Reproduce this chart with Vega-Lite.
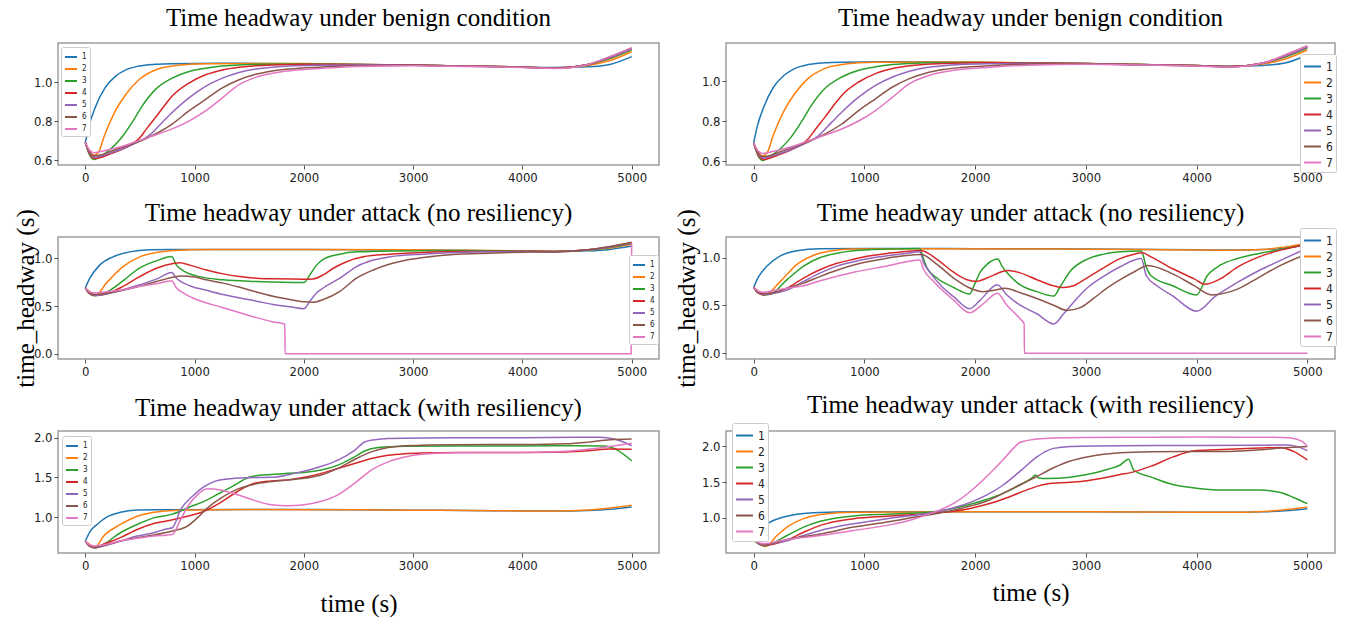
{
"$schema": "https://vega.github.io/schema/vega-lite/v6.json",
"padding": {"left": 12, "top": 5, "right": 5, "bottom": 0},
"background": "white",
"columns": 2,
"align": "each",
"bounds": "flush",
"spacing": {"row": 72, "column": 67},
"resolve": {"scale": {"color": "independent"}, "legend": {"color": "independent"}},
"datasets": {
"benign": [
{"v":1,"t":0,"h":0.69},{"v":1,"t":30,"h":0.768},{"v":1,"t":90,"h":0.869},{"v":1,"t":180,"h":0.97},{"v":1,"t":275,"h":1.029},{"v":1,"t":370,"h":1.062},{"v":1,"t":490,"h":1.082},{"v":1,"t":640,"h":1.091},{"v":1,"t":800,"h":1.094},{"v":1,"t":1200,"h":1.096},{"v":1,"t":2000,"h":1.094},{"v":1,"t":2500,"h":1.09},{"v":1,"t":3000,"h":1.087},{"v":1,"t":3500,"h":1.082},{"v":1,"t":4000,"h":1.077},{"v":1,"t":4300,"h":1.074},{"v":1,"t":4600,"h":1.078},{"v":1,"t":4800,"h":1.09},{"v":1,"t":5000,"h":1.13},
{"v":2,"t":0,"h":0.69},{"v":2,"t":40,"h":0.645},{"v":2,"t":80,"h":0.625},{"v":2,"t":120,"h":0.64},{"v":2,"t":180,"h":0.734},{"v":2,"t":275,"h":0.852},{"v":2,"t":370,"h":0.936},{"v":2,"t":490,"h":1.012},{"v":2,"t":640,"h":1.062},{"v":2,"t":800,"h":1.082},{"v":2,"t":950,"h":1.091},{"v":2,"t":1100,"h":1.094},{"v":2,"t":2000,"h":1.095},{"v":2,"t":2500,"h":1.09},{"v":2,"t":3000,"h":1.087},{"v":2,"t":3500,"h":1.082},{"v":2,"t":4000,"h":1.077},{"v":2,"t":4300,"h":1.072},{"v":2,"t":4600,"h":1.085},{"v":2,"t":4800,"h":1.11},{"v":2,"t":5000,"h":1.155},
{"v":3,"t":0,"h":0.69},{"v":3,"t":40,"h":0.625},{"v":3,"t":80,"h":0.603},{"v":3,"t":130,"h":0.615},{"v":3,"t":180,"h":0.634},{"v":3,"t":336,"h":0.718},{"v":3,"t":428,"h":0.793},{"v":3,"t":520,"h":0.877},{"v":3,"t":640,"h":0.961},{"v":3,"t":795,"h":1.02},{"v":3,"t":950,"h":1.054},{"v":3,"t":1100,"h":1.071},{"v":3,"t":1250,"h":1.082},{"v":3,"t":1400,"h":1.087},{"v":3,"t":1560,"h":1.091},{"v":3,"t":2000,"h":1.093},{"v":3,"t":2500,"h":1.09},{"v":3,"t":3000,"h":1.087},{"v":3,"t":3500,"h":1.082},{"v":3,"t":4000,"h":1.077},{"v":3,"t":4300,"h":1.072},{"v":3,"t":4600,"h":1.09},{"v":3,"t":4800,"h":1.12},{"v":3,"t":5000,"h":1.165},
{"v":4,"t":0,"h":0.69},{"v":4,"t":40,"h":0.63},{"v":4,"t":90,"h":0.608},{"v":4,"t":150,"h":0.615},{"v":4,"t":220,"h":0.63},{"v":4,"t":336,"h":0.655},{"v":4,"t":420,"h":0.68},{"v":4,"t":489,"h":0.709},{"v":4,"t":560,"h":0.76},{"v":4,"t":642,"h":0.818},{"v":4,"t":734,"h":0.886},{"v":4,"t":795,"h":0.928},{"v":4,"t":948,"h":0.995},{"v":4,"t":1100,"h":1.037},{"v":4,"t":1254,"h":1.062},{"v":4,"t":1407,"h":1.076},{"v":4,"t":1560,"h":1.084},{"v":4,"t":1713,"h":1.087},{"v":4,"t":2000,"h":1.091},{"v":4,"t":2500,"h":1.09},{"v":4,"t":3000,"h":1.087},{"v":4,"t":3500,"h":1.082},{"v":4,"t":4000,"h":1.077},{"v":4,"t":4300,"h":1.072},{"v":4,"t":4600,"h":1.09},{"v":4,"t":4800,"h":1.125},{"v":4,"t":5000,"h":1.17},
{"v":5,"t":0,"h":0.69},{"v":5,"t":40,"h":0.635},{"v":5,"t":90,"h":0.615},{"v":5,"t":150,"h":0.622},{"v":5,"t":250,"h":0.64},{"v":5,"t":350,"h":0.66},{"v":5,"t":489,"h":0.695},{"v":5,"t":581,"h":0.725},{"v":5,"t":703,"h":0.793},{"v":5,"t":795,"h":0.844},{"v":5,"t":948,"h":0.919},{"v":5,"t":1100,"h":0.978},{"v":5,"t":1254,"h":1.02},{"v":5,"t":1407,"h":1.049},{"v":5,"t":1560,"h":1.067},{"v":5,"t":1713,"h":1.076},{"v":5,"t":1865,"h":1.082},{"v":5,"t":2100,"h":1.086},{"v":5,"t":2500,"h":1.088},{"v":5,"t":3000,"h":1.086},{"v":5,"t":3500,"h":1.081},{"v":5,"t":4000,"h":1.076},{"v":5,"t":4300,"h":1.071},{"v":5,"t":4600,"h":1.09},{"v":5,"t":4800,"h":1.125},{"v":5,"t":5000,"h":1.17},
{"v":6,"t":0,"h":0.69},{"v":6,"t":40,"h":0.64},{"v":6,"t":80,"h":0.622},{"v":6,"t":150,"h":0.628},{"v":6,"t":250,"h":0.648},{"v":6,"t":336,"h":0.665},{"v":6,"t":489,"h":0.695},{"v":6,"t":642,"h":0.734},{"v":6,"t":795,"h":0.785},{"v":6,"t":948,"h":0.852},{"v":6,"t":1100,"h":0.911},{"v":6,"t":1254,"h":0.97},{"v":6,"t":1407,"h":1.012},{"v":6,"t":1560,"h":1.04},{"v":6,"t":1713,"h":1.057},{"v":6,"t":1865,"h":1.067},{"v":6,"t":2171,"h":1.077},{"v":6,"t":2500,"h":1.085},{"v":6,"t":3000,"h":1.086},{"v":6,"t":3500,"h":1.081},{"v":6,"t":4000,"h":1.076},{"v":6,"t":4300,"h":1.071},{"v":6,"t":4600,"h":1.09},{"v":6,"t":4800,"h":1.13},{"v":6,"t":5000,"h":1.175},
{"v":7,"t":0,"h":0.69},{"v":7,"t":40,"h":0.65},{"v":7,"t":80,"h":0.638},{"v":7,"t":150,"h":0.645},{"v":7,"t":250,"h":0.658},{"v":7,"t":336,"h":0.67},{"v":7,"t":489,"h":0.7},{"v":7,"t":642,"h":0.729},{"v":7,"t":795,"h":0.76},{"v":7,"t":948,"h":0.8},{"v":7,"t":1100,"h":0.852},{"v":7,"t":1254,"h":0.919},{"v":7,"t":1407,"h":0.987},{"v":7,"t":1560,"h":1.024},{"v":7,"t":1713,"h":1.045},{"v":7,"t":1865,"h":1.057},{"v":7,"t":2171,"h":1.07},{"v":7,"t":2477,"h":1.079},{"v":7,"t":3000,"h":1.084},{"v":7,"t":3500,"h":1.08},{"v":7,"t":4000,"h":1.075},{"v":7,"t":4300,"h":1.07},{"v":7,"t":4600,"h":1.09},{"v":7,"t":4800,"h":1.13},{"v":7,"t":5000,"h":1.175}
],
"attackL": [
{"v":1,"t":0,"h":0.69},{"v":1,"t":40,"h":0.79},{"v":1,"t":131,"h":0.93},{"v":1,"t":253,"h":1.017},{"v":1,"t":406,"h":1.069},{"v":1,"t":589,"h":1.09},{"v":1,"t":800,"h":1.093},{"v":1,"t":2000,"h":1.093},{"v":1,"t":3000,"h":1.088},{"v":1,"t":3500,"h":1.083},{"v":1,"t":4000,"h":1.078},{"v":1,"t":4300,"h":1.074},{"v":1,"t":4600,"h":1.08},{"v":1,"t":4800,"h":1.095},{"v":1,"t":5000,"h":1.13},
{"v":2,"t":0,"h":0.69},{"v":2,"t":50,"h":0.645},{"v":2,"t":100,"h":0.62},{"v":2,"t":192,"h":0.741},{"v":2,"t":345,"h":0.914},{"v":2,"t":498,"h":1.017},{"v":2,"t":650,"h":1.062},{"v":2,"t":803,"h":1.083},{"v":2,"t":956,"h":1.09},{"v":2,"t":1200,"h":1.094},{"v":2,"t":2000,"h":1.094},{"v":2,"t":3000,"h":1.09},{"v":2,"t":3500,"h":1.085},{"v":2,"t":4000,"h":1.079},{"v":2,"t":4300,"h":1.075},{"v":2,"t":4600,"h":1.088},{"v":2,"t":4800,"h":1.11},{"v":2,"t":5000,"h":1.15},
{"v":3,"t":0,"h":0.69},{"v":3,"t":40,"h":0.63},{"v":3,"t":80,"h":0.608},{"v":3,"t":192,"h":0.645},{"v":3,"t":345,"h":0.765},{"v":3,"t":498,"h":0.9},{"v":3,"t":650,"h":0.975},{"v":3,"t":790,"h":1.02},{"v":3,"t":834,"h":0.93},{"v":3,"t":895,"h":0.872},{"v":3,"t":1017,"h":0.817},{"v":3,"t":1261,"h":0.776},{"v":3,"t":1566,"h":0.759},{"v":3,"t":2000,"h":0.748},{"v":3,"t":2055,"h":0.828},{"v":3,"t":2116,"h":0.93},{"v":3,"t":2177,"h":0.99},{"v":3,"t":2330,"h":1.045},{"v":3,"t":2482,"h":1.069},{"v":3,"t":2788,"h":1.079},{"v":3,"t":3400,"h":1.084},{"v":3,"t":4000,"h":1.078},{"v":3,"t":4300,"h":1.074},{"v":3,"t":4600,"h":1.088},{"v":3,"t":4800,"h":1.115},{"v":3,"t":5000,"h":1.16},
{"v":4,"t":0,"h":0.69},{"v":4,"t":40,"h":0.63},{"v":4,"t":90,"h":0.61},{"v":4,"t":192,"h":0.628},{"v":4,"t":345,"h":0.707},{"v":4,"t":498,"h":0.81},{"v":4,"t":650,"h":0.897},{"v":4,"t":803,"h":0.948},{"v":4,"t":864,"h":0.955},{"v":4,"t":956,"h":0.93},{"v":4,"t":1108,"h":0.879},{"v":4,"t":1261,"h":0.838},{"v":4,"t":1414,"h":0.81},{"v":4,"t":1566,"h":0.793},{"v":4,"t":1719,"h":0.786},{"v":4,"t":2000,"h":0.783},{"v":4,"t":2085,"h":0.785},{"v":4,"t":2177,"h":0.828},{"v":4,"t":2269,"h":0.897},{"v":4,"t":2391,"h":0.966},{"v":4,"t":2543,"h":1.017},{"v":4,"t":2788,"h":1.045},{"v":4,"t":3093,"h":1.062},{"v":4,"t":3400,"h":1.072},{"v":4,"t":4000,"h":1.076},{"v":4,"t":4300,"h":1.073},{"v":4,"t":4600,"h":1.09},{"v":4,"t":4800,"h":1.12},{"v":4,"t":5000,"h":1.165},
{"v":5,"t":0,"h":0.69},{"v":5,"t":40,"h":0.635},{"v":5,"t":90,"h":0.615},{"v":5,"t":192,"h":0.628},{"v":5,"t":345,"h":0.672},{"v":5,"t":498,"h":0.724},{"v":5,"t":650,"h":0.783},{"v":5,"t":790,"h":0.852},{"v":5,"t":834,"h":0.793},{"v":5,"t":956,"h":0.714},{"v":5,"t":1108,"h":0.666},{"v":5,"t":1261,"h":0.621},{"v":5,"t":1414,"h":0.586},{"v":5,"t":1566,"h":0.552},{"v":5,"t":1719,"h":0.517},{"v":5,"t":1872,"h":0.493},{"v":5,"t":2000,"h":0.472},{"v":5,"t":2055,"h":0.552},{"v":5,"t":2116,"h":0.638},{"v":5,"t":2177,"h":0.69},{"v":5,"t":2330,"h":0.793},{"v":5,"t":2482,"h":0.914},{"v":5,"t":2635,"h":0.983},{"v":5,"t":2788,"h":1.017},{"v":5,"t":3093,"h":1.045},{"v":5,"t":3400,"h":1.062},{"v":5,"t":3700,"h":1.07},{"v":5,"t":4000,"h":1.072},{"v":5,"t":4300,"h":1.07},{"v":5,"t":4600,"h":1.09},{"v":5,"t":4800,"h":1.12},{"v":5,"t":5000,"h":1.165},
{"v":6,"t":0,"h":0.69},{"v":6,"t":40,"h":0.64},{"v":6,"t":80,"h":0.622},{"v":6,"t":192,"h":0.635},{"v":6,"t":345,"h":0.666},{"v":6,"t":498,"h":0.707},{"v":6,"t":650,"h":0.759},{"v":6,"t":803,"h":0.803},{"v":6,"t":880,"h":0.817},{"v":6,"t":1000,"h":0.805},{"v":6,"t":1108,"h":0.776},{"v":6,"t":1261,"h":0.741},{"v":6,"t":1414,"h":0.697},{"v":6,"t":1566,"h":0.648},{"v":6,"t":1719,"h":0.603},{"v":6,"t":1872,"h":0.569},{"v":6,"t":2000,"h":0.545},{"v":6,"t":2085,"h":0.541},{"v":6,"t":2177,"h":0.569},{"v":6,"t":2330,"h":0.655},{"v":6,"t":2482,"h":0.793},{"v":6,"t":2635,"h":0.879},{"v":6,"t":2788,"h":0.941},{"v":6,"t":2940,"h":0.983},{"v":6,"t":3093,"h":1.01},{"v":6,"t":3400,"h":1.045},{"v":6,"t":3600,"h":1.052},{"v":6,"t":4000,"h":1.066},{"v":6,"t":4300,"h":1.068},{"v":6,"t":4600,"h":1.09},{"v":6,"t":4800,"h":1.125},{"v":6,"t":5000,"h":1.17},
{"v":7,"t":0,"h":0.69},{"v":7,"t":40,"h":0.65},{"v":7,"t":80,"h":0.638},{"v":7,"t":192,"h":0.65},{"v":7,"t":345,"h":0.672},{"v":7,"t":498,"h":0.707},{"v":7,"t":650,"h":0.734},{"v":7,"t":790,"h":0.766},{"v":7,"t":834,"h":0.69},{"v":7,"t":895,"h":0.638},{"v":7,"t":1017,"h":0.569},{"v":7,"t":1261,"h":0.483},{"v":7,"t":1414,"h":0.431},{"v":7,"t":1566,"h":0.379},{"v":7,"t":1719,"h":0.334},{"v":7,"t":1826,"h":0.31},{"v":7,"t":1828,"h":0},{"v":7,"t":4995,"h":0},{"v":7,"t":5000,"h":1.16}
],
"attackR": [
{"v":1,"t":0,"h":0.69},{"v":1,"t":45,"h":0.8},{"v":1,"t":120,"h":0.911},{"v":1,"t":241,"h":1.018},{"v":1,"t":391,"h":1.071},{"v":1,"t":602,"h":1.093},{"v":1,"t":1000,"h":1.095},{"v":1,"t":2000,"h":1.093},{"v":1,"t":3000,"h":1.09},{"v":1,"t":4000,"h":1.082},{"v":1,"t":4300,"h":1.078},{"v":1,"t":4600,"h":1.085},{"v":1,"t":4800,"h":1.1},{"v":1,"t":5000,"h":1.14},
{"v":2,"t":0,"h":0.69},{"v":2,"t":50,"h":0.645},{"v":2,"t":105,"h":0.616},{"v":2,"t":241,"h":0.751},{"v":2,"t":391,"h":0.929},{"v":2,"t":542,"h":1.025},{"v":2,"t":692,"h":1.068},{"v":2,"t":903,"h":1.089},{"v":2,"t":1500,"h":1.093},{"v":2,"t":2500,"h":1.09},{"v":2,"t":3500,"h":1.085},{"v":2,"t":4000,"h":1.08},{"v":2,"t":4300,"h":1.077},{"v":2,"t":4600,"h":1.085},{"v":2,"t":4800,"h":1.11},{"v":2,"t":5000,"h":1.15},
{"v":3,"t":0,"h":0.69},{"v":3,"t":40,"h":0.63},{"v":3,"t":90,"h":0.61},{"v":3,"t":150,"h":0.616},{"v":3,"t":301,"h":0.769},{"v":3,"t":451,"h":0.911},{"v":3,"t":602,"h":1.0},{"v":3,"t":752,"h":1.046},{"v":3,"t":903,"h":1.071},{"v":3,"t":1204,"h":1.089},{"v":3,"t":1500,"h":1.096},{"v":3,"t":1535,"h":0.982},{"v":3,"t":1565,"h":0.893},{"v":3,"t":1655,"h":0.786},{"v":3,"t":1806,"h":0.687},{"v":3,"t":1950,"h":0.619},{"v":3,"t":1986,"h":0.698},{"v":3,"t":2046,"h":0.847},{"v":3,"t":2107,"h":0.929},{"v":3,"t":2205,"h":0.985},{"v":3,"t":2242,"h":0.911},{"v":3,"t":2317,"h":0.804},{"v":3,"t":2407,"h":0.715},{"v":3,"t":2558,"h":0.644},{"v":3,"t":2710,"h":0.598},{"v":3,"t":2769,"h":0.698},{"v":3,"t":2859,"h":0.858},{"v":3,"t":3009,"h":0.982},{"v":3,"t":3160,"h":1.036},{"v":3,"t":3310,"h":1.06},{"v":3,"t":3500,"h":1.07},{"v":3,"t":3546,"h":0.9},{"v":3,"t":3589,"h":0.81},{"v":3,"t":3784,"h":0.706},{"v":3,"t":4000,"h":0.61},{"v":3,"t":4096,"h":0.81},{"v":3,"t":4213,"h":0.92},{"v":3,"t":4369,"h":0.99},{"v":3,"t":4564,"h":1.043},{"v":3,"t":4758,"h":1.085},{"v":3,"t":5000,"h":1.14},
{"v":4,"t":0,"h":0.69},{"v":4,"t":40,"h":0.63},{"v":4,"t":90,"h":0.61},{"v":4,"t":150,"h":0.62},{"v":4,"t":301,"h":0.68},{"v":4,"t":451,"h":0.786},{"v":4,"t":602,"h":0.875},{"v":4,"t":752,"h":0.94},{"v":4,"t":903,"h":0.982},{"v":4,"t":1053,"h":1.018},{"v":4,"t":1204,"h":1.043},{"v":4,"t":1354,"h":1.06},{"v":4,"t":1510,"h":1.075},{"v":4,"t":1655,"h":0.982},{"v":4,"t":1806,"h":0.847},{"v":4,"t":1926,"h":0.769},{"v":4,"t":2016,"h":0.751},{"v":4,"t":2107,"h":0.786},{"v":4,"t":2257,"h":0.858},{"v":4,"t":2300,"h":0.865},{"v":4,"t":2407,"h":0.84},{"v":4,"t":2558,"h":0.769},{"v":4,"t":2708,"h":0.705},{"v":4,"t":2799,"h":0.687},{"v":4,"t":2889,"h":0.705},{"v":4,"t":3009,"h":0.786},{"v":4,"t":3160,"h":0.893},{"v":4,"t":3310,"h":0.989},{"v":4,"t":3420,"h":1.03},{"v":4,"t":3511,"h":1.05},{"v":4,"t":3589,"h":1.007},{"v":4,"t":3784,"h":0.883},{"v":4,"t":3979,"h":0.777},{"v":4,"t":4076,"h":0.72},{"v":4,"t":4213,"h":0.777},{"v":4,"t":4369,"h":0.9},{"v":4,"t":4564,"h":1.007},{"v":4,"t":4758,"h":1.078},{"v":4,"t":5000,"h":1.14},
{"v":5,"t":0,"h":0.69},{"v":5,"t":40,"h":0.635},{"v":5,"t":90,"h":0.615},{"v":5,"t":200,"h":0.63},{"v":5,"t":301,"h":0.66},{"v":5,"t":451,"h":0.751},{"v":5,"t":602,"h":0.84},{"v":5,"t":752,"h":0.911},{"v":5,"t":903,"h":0.957},{"v":5,"t":1053,"h":0.993},{"v":5,"t":1204,"h":1.018},{"v":5,"t":1354,"h":1.039},{"v":5,"t":1500,"h":1.06},{"v":5,"t":1535,"h":0.947},{"v":5,"t":1595,"h":0.84},{"v":5,"t":1715,"h":0.68},{"v":5,"t":1806,"h":0.591},{"v":5,"t":1950,"h":0.466},{"v":5,"t":2046,"h":0.555},{"v":5,"t":2200,"h":0.715},{"v":5,"t":2287,"h":0.609},{"v":5,"t":2407,"h":0.502},{"v":5,"t":2558,"h":0.413},{"v":5,"t":2710,"h":0.306},{"v":5,"t":2799,"h":0.413},{"v":5,"t":2919,"h":0.573},{"v":5,"t":3009,"h":0.68},{"v":5,"t":3160,"h":0.804},{"v":5,"t":3310,"h":0.904},{"v":5,"t":3500,"h":0.99},{"v":5,"t":3546,"h":0.81},{"v":5,"t":3650,"h":0.7},{"v":5,"t":3784,"h":0.6},{"v":5,"t":4000,"h":0.44},{"v":5,"t":4174,"h":0.6},{"v":5,"t":4369,"h":0.74},{"v":5,"t":4564,"h":0.865},{"v":5,"t":4758,"h":0.97},{"v":5,"t":5000,"h":1.1},
{"v":6,"t":0,"h":0.69},{"v":6,"t":40,"h":0.64},{"v":6,"t":80,"h":0.622},{"v":6,"t":200,"h":0.64},{"v":6,"t":301,"h":0.68},{"v":6,"t":451,"h":0.733},{"v":6,"t":602,"h":0.804},{"v":6,"t":752,"h":0.868},{"v":6,"t":903,"h":0.922},{"v":6,"t":1053,"h":0.961},{"v":6,"t":1204,"h":0.993},{"v":6,"t":1354,"h":1.018},{"v":6,"t":1514,"h":1.032},{"v":6,"t":1655,"h":0.929},{"v":6,"t":1806,"h":0.786},{"v":6,"t":1956,"h":0.68},{"v":6,"t":2076,"h":0.644},{"v":6,"t":2180,"h":0.66},{"v":6,"t":2270,"h":0.68},{"v":6,"t":2407,"h":0.633},{"v":6,"t":2558,"h":0.573},{"v":6,"t":2708,"h":0.502},{"v":6,"t":2830,"h":0.448},{"v":6,"t":2949,"h":0.477},{"v":6,"t":3069,"h":0.573},{"v":6,"t":3190,"h":0.68},{"v":6,"t":3310,"h":0.769},{"v":6,"t":3450,"h":0.86},{"v":6,"t":3560,"h":0.918},{"v":6,"t":3784,"h":0.83},{"v":6,"t":3979,"h":0.706},{"v":6,"t":4135,"h":0.61},{"v":6,"t":4369,"h":0.67},{"v":6,"t":4564,"h":0.794},{"v":6,"t":4758,"h":0.918},{"v":6,"t":5000,"h":1.04},
{"v":7,"t":0,"h":0.69},{"v":7,"t":40,"h":0.65},{"v":7,"t":80,"h":0.638},{"v":7,"t":200,"h":0.66},{"v":7,"t":301,"h":0.68},{"v":7,"t":451,"h":0.705},{"v":7,"t":602,"h":0.758},{"v":7,"t":903,"h":0.847},{"v":7,"t":1204,"h":0.911},{"v":7,"t":1500,"h":0.975},{"v":7,"t":1535,"h":0.875},{"v":7,"t":1625,"h":0.751},{"v":7,"t":1806,"h":0.555},{"v":7,"t":1950,"h":0.423},{"v":7,"t":2076,"h":0.52},{"v":7,"t":2200,"h":0.626},{"v":7,"t":2287,"h":0.502},{"v":7,"t":2407,"h":0.359},{"v":7,"t":2443,"h":0.306},{"v":7,"t":2445,"h":0},{"v":7,"t":5000,"h":0}
],
"resL": [
{"v":1,"t":0,"h":0.7},{"v":1,"t":46,"h":0.826},{"v":1,"t":107,"h":0.909},{"v":1,"t":199,"h":1.004},{"v":1,"t":321,"h":1.062},{"v":1,"t":474,"h":1.091},{"v":1,"t":627,"h":1.095},{"v":1,"t":1500,"h":1.098},{"v":1,"t":2500,"h":1.093},{"v":1,"t":3000,"h":1.088},{"v":1,"t":3500,"h":1.085},{"v":1,"t":4000,"h":1.08},{"v":1,"t":4300,"h":1.078},{"v":1,"t":4600,"h":1.085},{"v":1,"t":4800,"h":1.1},{"v":1,"t":5000,"h":1.13},
{"v":2,"t":0,"h":0.7},{"v":2,"t":45,"h":0.655},{"v":2,"t":92,"h":0.63},{"v":2,"t":168,"h":0.763},{"v":2,"t":321,"h":0.909},{"v":2,"t":474,"h":1.012},{"v":2,"t":627,"h":1.062},{"v":2,"t":780,"h":1.083},{"v":2,"t":934,"h":1.091},{"v":2,"t":1500,"h":1.097},{"v":2,"t":2500,"h":1.093},{"v":2,"t":3000,"h":1.088},{"v":2,"t":3500,"h":1.085},{"v":2,"t":4000,"h":1.08},{"v":2,"t":4300,"h":1.078},{"v":2,"t":4600,"h":1.09},{"v":2,"t":4800,"h":1.115},{"v":2,"t":5000,"h":1.15},
{"v":3,"t":0,"h":0.7},{"v":3,"t":40,"h":0.635},{"v":3,"t":85,"h":0.615},{"v":3,"t":168,"h":0.66},{"v":3,"t":321,"h":0.805},{"v":3,"t":474,"h":0.909},{"v":3,"t":627,"h":0.992},{"v":3,"t":780,"h":1.033},{"v":3,"t":872,"h":1.075},{"v":3,"t":934,"h":1.116},{"v":3,"t":1087,"h":1.2},{"v":3,"t":1240,"h":1.311},{"v":3,"t":1393,"h":1.427},{"v":3,"t":1454,"h":1.477},{"v":3,"t":1546,"h":1.519},{"v":3,"t":1699,"h":1.539},{"v":3,"t":1852,"h":1.552},{"v":3,"t":2005,"h":1.564},{"v":3,"t":2158,"h":1.593},{"v":3,"t":2311,"h":1.656},{"v":3,"t":2464,"h":1.759},{"v":3,"t":2556,"h":1.834},{"v":3,"t":2678,"h":1.876},{"v":3,"t":2923,"h":1.892},{"v":3,"t":3400,"h":1.896},{"v":3,"t":4000,"h":1.896},{"v":3,"t":4500,"h":1.9},{"v":3,"t":4750,"h":1.895},{"v":3,"t":4860,"h":1.85},{"v":3,"t":5000,"h":1.71},
{"v":4,"t":0,"h":0.7},{"v":4,"t":40,"h":0.635},{"v":4,"t":90,"h":0.615},{"v":4,"t":168,"h":0.66},{"v":4,"t":321,"h":0.743},{"v":4,"t":474,"h":0.846},{"v":4,"t":627,"h":0.921},{"v":4,"t":780,"h":0.963},{"v":4,"t":934,"h":1.012},{"v":4,"t":1087,"h":1.075},{"v":4,"t":1240,"h":1.187},{"v":4,"t":1393,"h":1.324},{"v":4,"t":1546,"h":1.427},{"v":4,"t":1699,"h":1.456},{"v":4,"t":1852,"h":1.469},{"v":4,"t":2005,"h":1.502},{"v":4,"t":2158,"h":1.552},{"v":4,"t":2311,"h":1.614},{"v":4,"t":2464,"h":1.676},{"v":4,"t":2617,"h":1.739},{"v":4,"t":2770,"h":1.78},{"v":4,"t":2923,"h":1.8},{"v":4,"t":3076,"h":1.809},{"v":4,"t":3400,"h":1.815},{"v":4,"t":4000,"h":1.815},{"v":4,"t":4400,"h":1.82},{"v":4,"t":4600,"h":1.835},{"v":4,"t":4800,"h":1.86},{"v":4,"t":5000,"h":1.855},
{"v":5,"t":0,"h":0.7},{"v":5,"t":40,"h":0.64},{"v":5,"t":90,"h":0.62},{"v":5,"t":200,"h":0.65},{"v":5,"t":321,"h":0.7},{"v":5,"t":474,"h":0.763},{"v":5,"t":627,"h":0.805},{"v":5,"t":750,"h":0.855},{"v":5,"t":796,"h":0.867},{"v":5,"t":872,"h":1.095},{"v":5,"t":995,"h":1.282},{"v":5,"t":1087,"h":1.386},{"v":5,"t":1178,"h":1.448},{"v":5,"t":1301,"h":1.481},{"v":5,"t":1454,"h":1.498},{"v":5,"t":1699,"h":1.502},{"v":5,"t":1913,"h":1.552},{"v":5,"t":2097,"h":1.614},{"v":5,"t":2311,"h":1.718},{"v":5,"t":2464,"h":1.842},{"v":5,"t":2556,"h":1.946},{"v":5,"t":2648,"h":1.975},{"v":5,"t":2770,"h":1.992},{"v":5,"t":3382,"h":2.0},{"v":5,"t":4000,"h":2.0},{"v":5,"t":4500,"h":2.005},{"v":5,"t":4700,"h":2.005},{"v":5,"t":4850,"h":1.98},{"v":5,"t":5000,"h":1.9},
{"v":6,"t":0,"h":0.7},{"v":6,"t":40,"h":0.64},{"v":6,"t":85,"h":0.622},{"v":6,"t":200,"h":0.655},{"v":6,"t":321,"h":0.7},{"v":6,"t":474,"h":0.743},{"v":6,"t":627,"h":0.776},{"v":6,"t":796,"h":0.826},{"v":6,"t":934,"h":0.888},{"v":6,"t":1025,"h":0.992},{"v":6,"t":1117,"h":1.116},{"v":6,"t":1240,"h":1.241},{"v":6,"t":1393,"h":1.353},{"v":6,"t":1546,"h":1.415},{"v":6,"t":1699,"h":1.448},{"v":6,"t":1852,"h":1.469},{"v":6,"t":2005,"h":1.49},{"v":6,"t":2158,"h":1.531},{"v":6,"t":2311,"h":1.614},{"v":6,"t":2464,"h":1.726},{"v":6,"t":2617,"h":1.822},{"v":6,"t":2770,"h":1.876},{"v":6,"t":2923,"h":1.9},{"v":6,"t":3382,"h":1.913},{"v":6,"t":4000,"h":1.915},{"v":6,"t":4400,"h":1.925},{"v":6,"t":4600,"h":1.945},{"v":6,"t":4800,"h":1.975},{"v":6,"t":5000,"h":1.985},
{"v":7,"t":0,"h":0.7},{"v":7,"t":40,"h":0.65},{"v":7,"t":80,"h":0.638},{"v":7,"t":200,"h":0.66},{"v":7,"t":321,"h":0.7},{"v":7,"t":474,"h":0.735},{"v":7,"t":627,"h":0.763},{"v":7,"t":796,"h":0.784},{"v":7,"t":872,"h":0.971},{"v":7,"t":934,"h":1.129},{"v":7,"t":1025,"h":1.282},{"v":7,"t":1117,"h":1.357},{"v":7,"t":1240,"h":1.344},{"v":7,"t":1393,"h":1.282},{"v":7,"t":1546,"h":1.212},{"v":7,"t":1699,"h":1.158},{"v":7,"t":1852,"h":1.145},{"v":7,"t":2005,"h":1.158},{"v":7,"t":2158,"h":1.2},{"v":7,"t":2311,"h":1.282},{"v":7,"t":2464,"h":1.427},{"v":7,"t":2617,"h":1.593},{"v":7,"t":2770,"h":1.697},{"v":7,"t":2923,"h":1.759},{"v":7,"t":3076,"h":1.793},{"v":7,"t":3382,"h":1.812},{"v":7,"t":4000,"h":1.815},{"v":7,"t":4400,"h":1.83},{"v":7,"t":4600,"h":1.855},{"v":7,"t":4800,"h":1.89},{"v":7,"t":5000,"h":1.93}
],
"resR": [
{"v":1,"t":0,"h":0.72},{"v":1,"t":60,"h":0.848},{"v":1,"t":150,"h":0.943},{"v":1,"t":301,"h":1.024},{"v":1,"t":451,"h":1.062},{"v":1,"t":602,"h":1.076},{"v":1,"t":903,"h":1.085},{"v":1,"t":2000,"h":1.088},{"v":1,"t":3000,"h":1.085},{"v":1,"t":4000,"h":1.08},{"v":1,"t":4300,"h":1.078},{"v":1,"t":4600,"h":1.085},{"v":1,"t":4800,"h":1.1},{"v":1,"t":5000,"h":1.13},
{"v":2,"t":0,"h":0.7},{"v":2,"t":50,"h":0.64},{"v":2,"t":105,"h":0.6},{"v":2,"t":211,"h":0.754},{"v":2,"t":301,"h":0.872},{"v":2,"t":451,"h":0.99},{"v":2,"t":602,"h":1.047},{"v":2,"t":752,"h":1.071},{"v":2,"t":903,"h":1.08},{"v":2,"t":2000,"h":1.088},{"v":2,"t":3000,"h":1.085},{"v":2,"t":4000,"h":1.08},{"v":2,"t":4300,"h":1.078},{"v":2,"t":4600,"h":1.09},{"v":2,"t":4800,"h":1.115},{"v":2,"t":5000,"h":1.15},
{"v":3,"t":0,"h":0.7},{"v":3,"t":50,"h":0.63},{"v":3,"t":100,"h":0.61},{"v":3,"t":150,"h":0.635},{"v":3,"t":301,"h":0.754},{"v":3,"t":451,"h":0.872},{"v":3,"t":602,"h":0.953},{"v":3,"t":752,"h":1.0},{"v":3,"t":903,"h":1.028},{"v":3,"t":1204,"h":1.052},{"v":3,"t":1505,"h":1.071},{"v":3,"t":1655,"h":1.095},{"v":3,"t":1806,"h":1.133},{"v":3,"t":1956,"h":1.19},{"v":3,"t":2107,"h":1.261},{"v":3,"t":2257,"h":1.346},{"v":3,"t":2407,"h":1.464},{"v":3,"t":2513,"h":1.559},{"v":3,"t":2543,"h":1.6},{"v":3,"t":2573,"h":1.559},{"v":3,"t":2648,"h":1.55},{"v":3,"t":2859,"h":1.569},{"v":3,"t":3009,"h":1.607},{"v":3,"t":3200,"h":1.68},{"v":3,"t":3310,"h":1.74},{"v":3,"t":3386,"h":1.82},{"v":3,"t":3433,"h":1.667},{"v":3,"t":3589,"h":1.57},{"v":3,"t":3784,"h":1.467},{"v":3,"t":3979,"h":1.42},{"v":3,"t":4213,"h":1.39},{"v":3,"t":4564,"h":1.39},{"v":3,"t":4758,"h":1.357},{"v":3,"t":4875,"h":1.286},{"v":3,"t":5000,"h":1.2},
{"v":4,"t":0,"h":0.7},{"v":4,"t":50,"h":0.635},{"v":4,"t":100,"h":0.615},{"v":4,"t":301,"h":0.69},{"v":4,"t":451,"h":0.8},{"v":4,"t":602,"h":0.896},{"v":4,"t":752,"h":0.953},{"v":4,"t":903,"h":0.99},{"v":4,"t":1204,"h":1.024},{"v":4,"t":1505,"h":1.052},{"v":4,"t":1655,"h":1.071},{"v":4,"t":1806,"h":1.095},{"v":4,"t":1956,"h":1.133},{"v":4,"t":2107,"h":1.19},{"v":4,"t":2257,"h":1.265},{"v":4,"t":2407,"h":1.355},{"v":4,"t":2558,"h":1.441},{"v":4,"t":2648,"h":1.474},{"v":4,"t":2859,"h":1.498},{"v":4,"t":3009,"h":1.521},{"v":4,"t":3160,"h":1.559},{"v":4,"t":3310,"h":1.607},{"v":4,"t":3394,"h":1.63},{"v":4,"t":3589,"h":1.724},{"v":4,"t":3784,"h":1.85},{"v":4,"t":3979,"h":1.94},{"v":4,"t":4174,"h":1.952},{"v":4,"t":4564,"h":1.976},{"v":4,"t":4758,"h":1.986},{"v":4,"t":4875,"h":1.93},{"v":4,"t":5000,"h":1.81},
{"v":5,"t":0,"h":0.7},{"v":5,"t":50,"h":0.64},{"v":5,"t":100,"h":0.62},{"v":5,"t":200,"h":0.65},{"v":5,"t":301,"h":0.68},{"v":5,"t":451,"h":0.754},{"v":5,"t":602,"h":0.825},{"v":5,"t":903,"h":0.919},{"v":5,"t":1204,"h":0.99},{"v":5,"t":1505,"h":1.047},{"v":5,"t":1655,"h":1.085},{"v":5,"t":1806,"h":1.142},{"v":5,"t":1956,"h":1.218},{"v":5,"t":2107,"h":1.322},{"v":5,"t":2257,"h":1.464},{"v":5,"t":2407,"h":1.654},{"v":5,"t":2558,"h":1.853},{"v":5,"t":2648,"h":1.938},{"v":5,"t":2708,"h":1.972},{"v":5,"t":2859,"h":2.0},{"v":5,"t":3310,"h":2.01},{"v":5,"t":4000,"h":2.012},{"v":5,"t":4500,"h":2.015},{"v":5,"t":4800,"h":2.02},{"v":5,"t":4900,"h":2.0},{"v":5,"t":5000,"h":1.94},
{"v":6,"t":0,"h":0.7},{"v":6,"t":50,"h":0.645},{"v":6,"t":100,"h":0.625},{"v":6,"t":301,"h":0.7},{"v":6,"t":451,"h":0.74},{"v":6,"t":602,"h":0.777},{"v":6,"t":903,"h":0.872},{"v":6,"t":1204,"h":0.943},{"v":6,"t":1505,"h":1.024},{"v":6,"t":1655,"h":1.062},{"v":6,"t":1806,"h":1.109},{"v":6,"t":1956,"h":1.166},{"v":6,"t":2107,"h":1.237},{"v":6,"t":2257,"h":1.346},{"v":6,"t":2407,"h":1.464},{"v":6,"t":2543,"h":1.569},{"v":6,"t":2708,"h":1.701},{"v":6,"t":2859,"h":1.796},{"v":6,"t":3009,"h":1.853},{"v":6,"t":3160,"h":1.891},{"v":6,"t":3310,"h":1.91},{"v":6,"t":3600,"h":1.925},{"v":6,"t":4000,"h":1.93},{"v":6,"t":4300,"h":1.93},{"v":6,"t":4564,"h":1.952},{"v":6,"t":4758,"h":1.976},{"v":6,"t":5000,"h":2.0},
{"v":7,"t":0,"h":0.73},{"v":7,"t":40,"h":0.66},{"v":7,"t":90,"h":0.64},{"v":7,"t":301,"h":0.7},{"v":7,"t":602,"h":0.754},{"v":7,"t":903,"h":0.825},{"v":7,"t":1204,"h":0.896},{"v":7,"t":1444,"h":0.981},{"v":7,"t":1565,"h":1.047},{"v":7,"t":1655,"h":1.095},{"v":7,"t":1806,"h":1.204},{"v":7,"t":1956,"h":1.37},{"v":7,"t":2107,"h":1.583},{"v":7,"t":2257,"h":1.82},{"v":7,"t":2347,"h":1.976},{"v":7,"t":2407,"h":2.057},{"v":7,"t":2558,"h":2.104},{"v":7,"t":2708,"h":2.118},{"v":7,"t":3310,"h":2.128},{"v":7,"t":4000,"h":2.13},{"v":7,"t":4700,"h":2.128},{"v":7,"t":4836,"h":2.12},{"v":7,"t":4953,"h":2.07},{"v":7,"t":5000,"h":2.0}
]
},
"concat": [
{"title": {"text": "Time headway under benign condition", "offset": 12}, "width": 601, "height": 122, "data": {"name": "benign"},
 "mark": {"type": "line", "interpolate": "monotone", "strokeWidth": 1.5, "clip": true},
 "encoding": {
  "x": {"field": "t", "type": "quantitative", "scale": {"domain": [-250, 5250], "nice": false, "zero": false}, "axis": {"values": [0, 1000, 2000, 3000, 4000, 5000], "format": "d", "title": null}},
  "y": {"field": "h", "type": "quantitative", "scale": {"domain": [0.575, 1.2], "nice": false, "zero": false}, "axis": {"values": [0.6, 0.8, 1.0], "format": ".1f", "title": null}},
  "color": {"field": "v", "type": "nominal", "scale": {"domain": [1, 2, 3, 4, 5, 6, 7], "range": ["#1f77b4", "#ff7f0e", "#2ca02c", "#d62728", "#9467bd", "#8c564b", "#e377c2"]},
   "legend": {"title": null, "orient": "none", "legendX": 3, "legendY": 4, "labelFontSize": 8, "symbolSize": 144, "rowPadding": 1}}
 }},
{"title": {"text": "Time headway under benign condition", "offset": 12}, "width": 609, "height": 122, "data": {"name": "benign"},
 "mark": {"type": "line", "interpolate": "monotone", "strokeWidth": 1.5, "clip": true},
 "encoding": {
  "x": {"field": "t", "type": "quantitative", "scale": {"domain": [-250, 5250], "nice": false, "zero": false}, "axis": {"values": [0, 1000, 2000, 3000, 4000, 5000], "format": "d", "title": null}},
  "y": {"field": "h", "type": "quantitative", "scale": {"domain": [0.58, 1.19], "nice": false, "zero": false}, "axis": {"values": [0.6, 0.8, 1.0], "format": ".1f", "title": null}},
  "color": {"field": "v", "type": "nominal", "scale": {"domain": [1, 2, 3, 4, 5, 6, 7], "range": ["#1f77b4", "#ff7f0e", "#2ca02c", "#d62728", "#9467bd", "#8c564b", "#e377c2"]},
   "legend": {"title": null, "orient": "none", "legendX": 574, "legendY": 11, "labelFontSize": 12, "symbolSize": 289, "rowPadding": 0}}
 }},
{"title": {"text": "Time headway under attack (no resiliency)", "offset": -17}, "width": 601, "height": 122, "data": {"name": "attackL"},
 "mark": {"type": "line", "interpolate": "monotone", "strokeWidth": 1.5, "clip": true},
 "encoding": {
  "x": {"field": "t", "type": "quantitative", "scale": {"domain": [-250, 5250], "nice": false, "zero": false}, "axis": {"values": [0, 1000, 2000, 3000, 4000, 5000], "format": "d", "title": null}},
  "y": {"field": "h", "type": "quantitative", "scale": {"domain": [-0.055, 1.225], "nice": false, "zero": false}, "axis": {"values": [0, 0.5, 1.0], "format": ".1f", "title": "time_headway (s)", "titlePadding": -5}},
  "color": {"field": "v", "type": "nominal", "scale": {"domain": [1, 2, 3, 4, 5, 6, 7], "range": ["#1f77b4", "#ff7f0e", "#2ca02c", "#d62728", "#9467bd", "#8c564b", "#e377c2"]},
   "legend": {"title": null, "orient": "none", "legendX": 571, "legendY": 18, "labelFontSize": 8, "symbolSize": 144, "rowPadding": 1}}
 }},
{"title": {"text": "Time headway under attack (no resiliency)", "offset": -17}, "width": 609, "height": 122, "data": {"name": "attackR"},
 "mark": {"type": "line", "interpolate": "monotone", "strokeWidth": 1.5, "clip": true},
 "encoding": {
  "x": {"field": "t", "type": "quantitative", "scale": {"domain": [-250, 5250], "nice": false, "zero": false}, "axis": {"values": [0, 1000, 2000, 3000, 4000, 5000], "format": "d", "title": null}},
  "y": {"field": "h", "type": "quantitative", "scale": {"domain": [-0.06, 1.215], "nice": false, "zero": false}, "axis": {"values": [0, 0.5, 1.0], "format": ".1f", "title": "time_headway (s)", "titlePadding": 2}},
  "color": {"field": "v", "type": "nominal", "scale": {"domain": [1, 2, 3, 4, 5, 6, 7], "range": ["#1f77b4", "#ff7f0e", "#2ca02c", "#d62728", "#9467bd", "#8c564b", "#e377c2"]},
   "legend": {"title": null, "orient": "none", "legendX": 574, "legendY": -9, "labelFontSize": 12, "symbolSize": 289, "rowPadding": 0}}
 }},
{"title": {"text": "Time headway under attack (with resiliency)", "offset": 10}, "width": 601, "height": 122, "data": {"name": "resL"},
 "mark": {"type": "line", "interpolate": "monotone", "strokeWidth": 1.5, "clip": true},
 "encoding": {
  "x": {"field": "t", "type": "quantitative", "scale": {"domain": [-250, 5250], "nice": false, "zero": false}, "axis": {"values": [0, 1000, 2000, 3000, 4000, 5000], "format": "d", "title": "time (s)", "titlePadding": 19}},
  "y": {"field": "h", "type": "quantitative", "scale": {"domain": [0.55, 2.085], "nice": false, "zero": false}, "axis": {"values": [1.0, 1.5, 2.0], "format": ".1f", "title": null}},
  "color": {"field": "v", "type": "nominal", "scale": {"domain": [1, 2, 3, 4, 5, 6, 7], "range": ["#1f77b4", "#ff7f0e", "#2ca02c", "#d62728", "#9467bd", "#8c564b", "#e377c2"]},
   "legend": {"title": null, "orient": "none", "legendX": 4, "legendY": 5, "labelFontSize": 8, "symbolSize": 144, "rowPadding": 1}}
 }},
{"title": {"text": "Time headway under attack (with resiliency)", "offset": 5}, "width": 609, "height": 122, "data": {"name": "resR"},
 "mark": {"type": "line", "interpolate": "monotone", "strokeWidth": 1.5, "clip": true},
 "encoding": {
  "x": {"field": "t", "type": "quantitative", "scale": {"domain": [-250, 5250], "nice": false, "zero": false}, "axis": {"values": [0, 1000, 2000, 3000, 4000, 5000], "format": "d", "title": "time (s)", "titlePadding": 8}},
  "y": {"field": "h", "type": "quantitative", "scale": {"domain": [0.51, 2.215], "nice": false, "zero": false}, "axis": {"values": [1.0, 1.5, 2.0], "format": ".1f", "title": null}},
  "color": {"field": "v", "type": "nominal", "scale": {"domain": [1, 2, 3, 4, 5, 6, 7], "range": ["#1f77b4", "#ff7f0e", "#2ca02c", "#d62728", "#9467bd", "#8c564b", "#e377c2"]},
   "legend": {"title": null, "orient": "none", "legendX": 6, "legendY": -8, "labelFontSize": 12, "symbolSize": 289, "rowPadding": 0}}
 }}
],
"config": {
 "view": {"stroke": "#9e9e9e", "strokeWidth": 1.5},
 "axis": {"grid": false, "domain": false, "ticks": true, "tickSize": 4, "tickColor": "#555555", "tickWidth": 1,
  "labelFont": "Liberation Sans Narrow, DejaVu Sans Condensed, Arial Narrow, sans-serif", "labelFontSize": 13, "labelColor": "#222222", "labelPadding": 2,
  "titleFont": "Liberation Serif", "titleFontSize": 25, "titleFontWeight": "normal", "titleColor": "#000000"},
 "title": {"font": "Liberation Serif", "fontSize": 25, "fontWeight": "normal", "color": "#000000"},
 "legend": {"symbolType": "stroke", "symbolStrokeWidth": 2, "strokeColor": "#cccccc", "fillColor": "#ffffff", "padding": 3, "cornerRadius": 2,
  "labelFont": "Liberation Sans Narrow, DejaVu Sans Condensed, Arial Narrow, sans-serif", "labelColor": "#222222", "labelOffset": 4}
}
}
